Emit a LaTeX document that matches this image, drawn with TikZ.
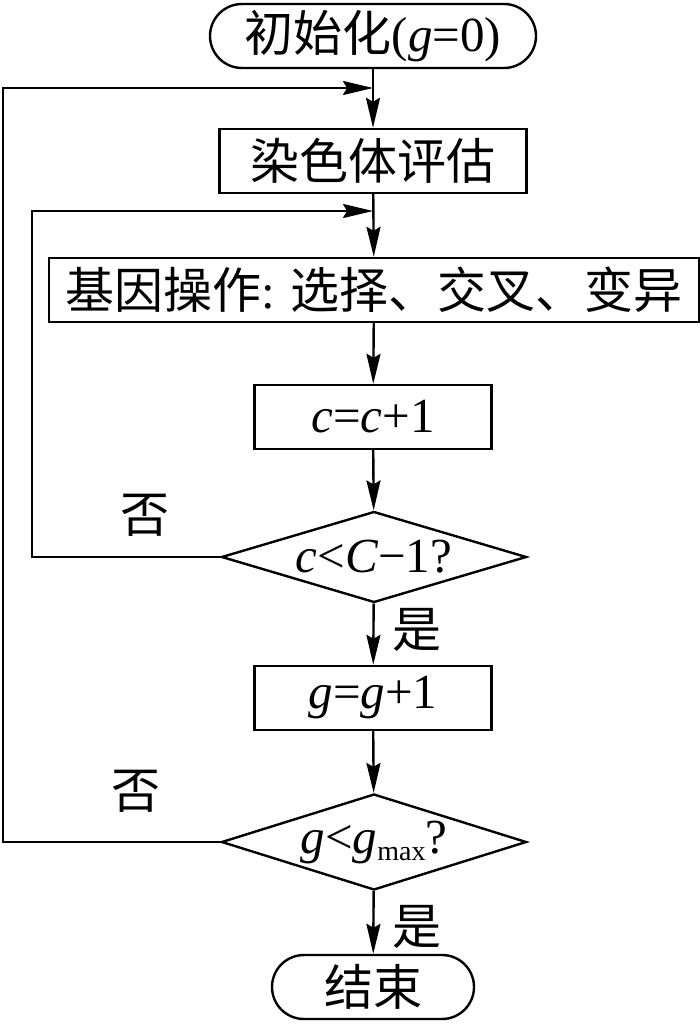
\documentclass[tikz,border=0pt]{standalone}
\usepackage{fontspec}
\setmainfont{Liberation Serif}
\newfontfamily\cjk{Noto Sans CJK SC}
\usetikzlibrary{arrows.meta,shapes.geometric}

\begin{document}
\begin{tikzpicture}[x=0.5pt,y=-0.5pt,line width=1.2pt]
\tikzset{box/.style={draw, rectangle, inner sep=0pt, minimum height=32pt},
  terminal/.style={box, rounded corners=16pt},
  decision/.style={draw, diamond, aspect=3.3, inner sep=0pt, minimum width=152.5pt},
  arr/.style={-{Stealth[length=15pt,width=7pt,inset=2pt]}}}
    \useasboundingbox (0,0) rectangle (700,1028);
    \fontsize{24.5}{28}\selectfont
    \node[terminal, minimum width=163pt] at (373,36) (t_1) {{\cjk 初始化}(\textit{g}=0)};
    \node[box, minimum width=153.5pt] at (373,161) (p_1) {\cjk 染色体评估};
    \node[box, minimum width=325pt] at (374,290) (p_2) {{\cjk 基因操作}: {\cjk 选择、交叉、变异}};
    \node[box, minimum width=118.5pt] at (373,417) (p_3) {\textit{c}=\textit{c}+1};
    \node[decision, minimum height=45.5pt] at (374,557) (d_1) {\makebox[0pt]{\textit{c}<\textit{C}−1?}};
    \node[box, minimum width=118.5pt] at (373,698) (p_4) {\textit{g}=\textit{g}+1};
    \node[decision, minimum height=48pt] at (374,842) (d_2) {\makebox[0pt]{\textit{g}<\textit{g}\raisebox{-0.35ex}{\fontsize{14}{14}\selectfont max}?}};
    \node[terminal, minimum width=101pt] at (373,987) (t_2) {\cjk 结束};

    \coordinate (j_1) at (373,88);
    \coordinate (c_1) at (3,88);
    \coordinate (j_2) at (373,211);
    \coordinate (c_2) at (32,211);

    \draw[arr] (t_1) -- (p_1);
    \draw[arr] (p_1) -- (p_2);
    \draw[arr] (p_2) -- (p_3);
    \draw[arr] (p_3) -- (d_1);
    \draw[arr] (d_1) -- node[right=1pt, yshift=2pt] {\cjk 是} (p_4);
    \draw[arr] (p_4) -- (d_2);
    \draw[arr] (d_2) -- node[right=1pt, yshift=-2pt] {\cjk 是} (t_2);
    \draw[arr] (d_1.west) -| (c_2) -- (j_2);
    \draw[arr] (d_2.west) -| (c_1) -- (j_1);
    \node at (145,515) (n_1) {\cjk 否};
    \node at (136,791) (n_2) {\cjk 否};
  \end{tikzpicture}
\end{document}
